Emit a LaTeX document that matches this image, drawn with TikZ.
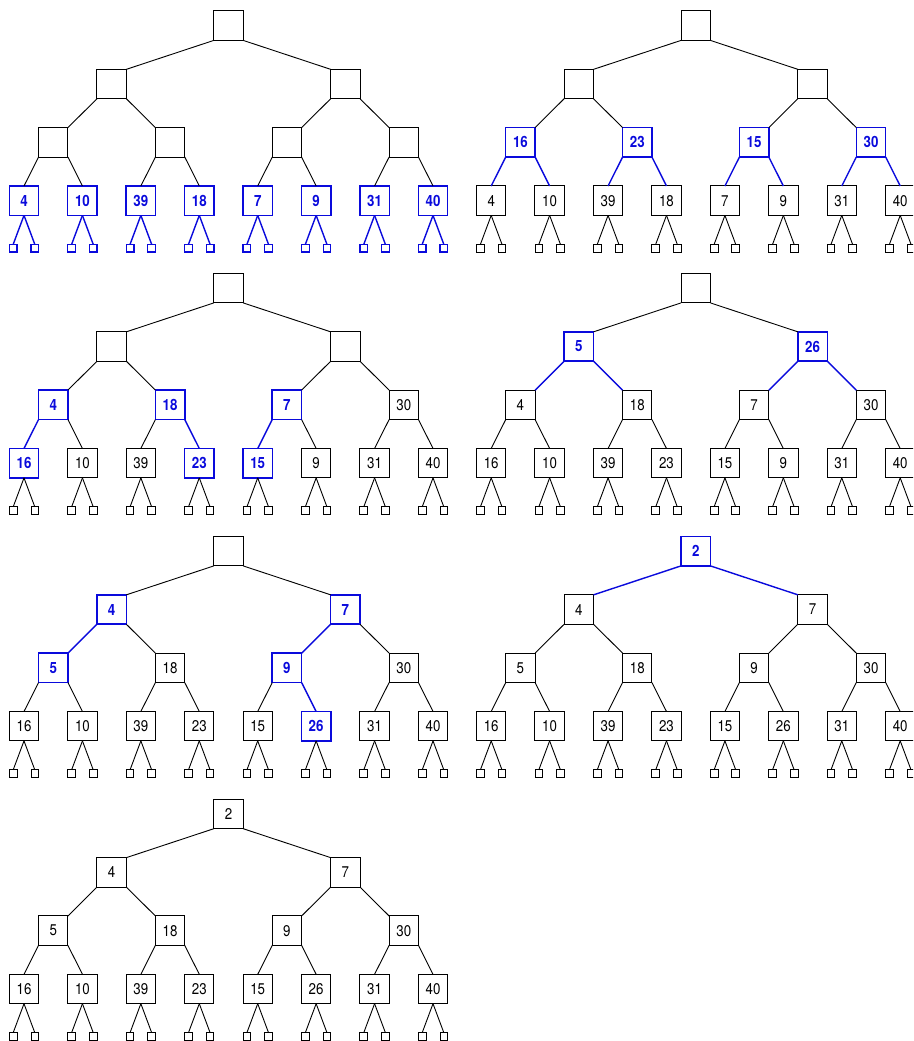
\documentclass[tikz,border=0pt]{standalone}
\usepackage{fontspec}
\setmainfont{TeX Gyre Heros}[FakeStretch=0.86]
\definecolor{hblue}{RGB}{10,10,220}
\tikzset{
 boxn/.style={rectangle, draw=black, line width=1pt, minimum size=29.4pt, inner sep=0pt, outer sep=0pt, text=black, font=\fontsize{15.5}{17}\selectfont},
 boxh/.style={boxn, draw=hblue, line width=1.5pt, text=hblue, font=\fontsize{15.5}{17}\selectfont\bfseries},
 edgen/.style={draw=black, line width=0.9pt},
 edgeh/.style={draw=hblue, line width=1.4pt},
 extn/.style={rectangle, draw=black, line width=0.9pt, minimum size=7.7pt, inner sep=0pt, outer sep=0pt},
 exth/.style={extn, draw=hblue, line width=1.2pt},
}
\newcommand\drawtree[6]{%
 \begin{scope}[shift={(#2,#3)}]
 \foreach \lab/\ns/\es [count=\i] in {#4} {
   \pgfmathtruncatemacro\lev{\i==1 ? 0 : (\i<4 ? 1 : (\i<8 ? 2 : 3))}
   \pgfmathtruncatemacro\k{\i-2^\lev}
   \pgfmathtruncatemacro\spn{2^(3-\lev)}
   \pgfmathsetmacro\x{24+58.43*(\k*\spn+(\spn-1)/2)}
   \pgfmathsetmacro\y{25.7+58.33*\lev}
   \node[\ns] (#1n\i) at (\x,\y) {\lab};
   \ifnum\i>1
     \pgfmathtruncatemacro\p{floor(\i/2)}
     \ifnum\i<8
       \ifodd\i
         \draw[\es] (#1n\p.south east) -- (#1n\i.north west);
       \else
         \draw[\es] (#1n\p.south west) -- (#1n\i.north east);
       \fi
     \else
       \ifodd\i
         \draw[\es] (#1n\p.south east) -- (#1n\i.north);
       \else
         \draw[\es] (#1n\p.south west) -- (#1n\i.north);
       \fi
       \node[#5] (#1e\i l) at (\x-10.8,\y+47.5) {};
       \node[#5] (#1e\i r) at (\x+10.8,\y+47.5) {};
       \draw[#6] (#1n\i.south) -- (#1e\i l.north);
       \draw[#6] (#1n\i.south) -- (#1e\i r.north);
     \fi
   \fi
 }
 \end{scope}}
\begin{document}
\begin{tikzpicture}[x=1pt,y=-1pt]
\useasboundingbox (0,0) rectangle (913,1041);
\clip (0,0) rectangle (913,1041);
% tree 1
\drawtree{a}{0}{0}{\relax/boxn/edgen, \relax/boxn/edgen, \relax/boxn/edgen,
 \relax/boxn/edgen, \relax/boxn/edgen, \relax/boxn/edgen, \relax/boxn/edgen,
 4/boxh/edgen, 10/boxh/edgen, 39/boxh/edgen, 18/boxh/edgen, 7/boxh/edgen, 9/boxh/edgen, 31/boxh/edgen, 40/boxh/edgen}{exth}{edgeh}
% tree 2
\drawtree{b}{467.2}{0}{\relax/boxn/edgen, \relax/boxn/edgen, \relax/boxn/edgen,
 16/boxh/edgen, 23/boxh/edgen, 15/boxh/edgen, 30/boxh/edgen,
 4/boxn/edgeh, 10/boxn/edgeh, 39/boxn/edgeh, 18/boxn/edgeh, 7/boxn/edgeh, 9/boxn/edgeh, 31/boxn/edgeh, 40/boxn/edgeh}{extn}{edgen}
% tree 3
\drawtree{c}{0}{262.5}{\relax/boxn/edgen, \relax/boxn/edgen, \relax/boxn/edgen,
 4/boxh/edgen, 18/boxh/edgen, 7/boxh/edgen, 30/boxn/edgen,
 16/boxh/edgeh, 10/boxn/edgen, 39/boxn/edgen, 23/boxh/edgeh, 15/boxh/edgeh, 9/boxn/edgen, 31/boxn/edgen, 40/boxn/edgen}{extn}{edgen}
% tree 4
\drawtree{d}{467.2}{262.5}{\relax/boxn/edgen, 5/boxh/edgen, 26/boxh/edgen,
 4/boxn/edgeh, 18/boxn/edgeh, 7/boxn/edgeh, 30/boxn/edgeh,
 16/boxn/edgen, 10/boxn/edgen, 39/boxn/edgen, 23/boxn/edgen, 15/boxn/edgen, 9/boxn/edgen, 31/boxn/edgen, 40/boxn/edgen}{extn}{edgen}
% tree 5
\drawtree{e}{0}{525.5}{\relax/boxn/edgen, 4/boxh/edgen, 7/boxh/edgen,
 5/boxh/edgeh, 18/boxn/edgen, 9/boxh/edgeh, 30/boxn/edgen,
 16/boxn/edgen, 10/boxn/edgen, 39/boxn/edgen, 23/boxn/edgen, 15/boxn/edgen, 26/boxh/edgeh, 31/boxn/edgen, 40/boxn/edgen}{extn}{edgen}
% tree 6
\drawtree{f}{467.2}{525.5}{2/boxh/edgen, 4/boxn/edgeh, 7/boxn/edgeh,
 5/boxn/edgen, 18/boxn/edgen, 9/boxn/edgen, 30/boxn/edgen,
 16/boxn/edgen, 10/boxn/edgen, 39/boxn/edgen, 23/boxn/edgen, 15/boxn/edgen, 26/boxn/edgen, 31/boxn/edgen, 40/boxn/edgen}{extn}{edgen}
% tree 7
\drawtree{g}{0}{788.3}{2/boxn/edgen, 4/boxn/edgen, 7/boxn/edgen,
 5/boxn/edgen, 18/boxn/edgen, 9/boxn/edgen, 30/boxn/edgen,
 16/boxn/edgen, 10/boxn/edgen, 39/boxn/edgen, 23/boxn/edgen, 15/boxn/edgen, 26/boxn/edgen, 31/boxn/edgen, 40/boxn/edgen}{extn}{edgen}
\end{tikzpicture}
\end{document}
